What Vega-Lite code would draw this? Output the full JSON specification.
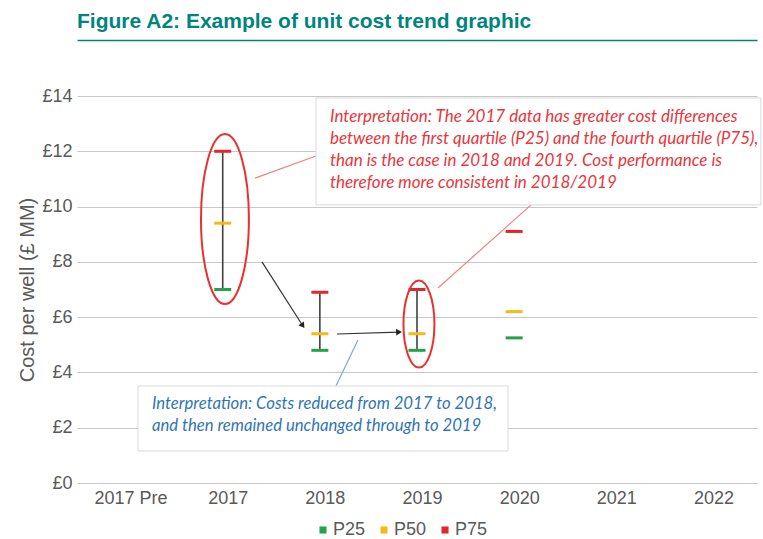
{
  "$schema": "https://vega.github.io/schema/vega-lite/v6.json",
  "width": 680,
  "height": 387,
  "autosize": {"type": "none"},
  "padding": {"left": 77, "top": 96, "right": 6, "bottom": 56},
  "background": "white",
  "title": {
    "text": "Figure A2: Example of unit cost trend graphic",
    "anchor": "start",
    "frame": "group",
    "font": "Liberation Sans",
    "fontSize": 21,
    "fontWeight": "bold",
    "color": "#00857e",
    "offset": 8,
    "dx": 0
  },
  "config": {
    "view": {"stroke": null},
    "axis": {"labelFont": "Liberation Sans", "titleFont": "Liberation Sans"}
  },
  "datasets": {
    "costs": [
      {"pos": 1, "year": "2017", "P25": 7.0, "P50": 9.4, "P75": 12.0},
      {"pos": 2, "year": "2018", "P25": 4.8, "P50": 5.4, "P75": 6.9},
      {"pos": 3, "year": "2019", "P25": 4.8, "P50": 5.4, "P75": 7.0},
      {"pos": 4, "year": "2020", "P25": 5.25, "P50": 6.2, "P75": 9.1}
    ],
    "boxes": [
      {"name": "red", "x": 1.96, "x2": 6.54, "y": 13.93, "y2": 10.06},
      {"name": "blue", "x": 0.128, "x2": 3.937, "y": 3.51, "y2": 1.158}
    ],
    "notes": [
      {"group": "red", "x": 2.104, "y": 13.24, "text": "Interpretation: The 2017 data has greater cost differences"},
      {"group": "red", "x": 2.104, "y": 12.45, "text": "between the first quartile (P25) and the fourth quartile (P75),"},
      {"group": "red", "x": 2.104, "y": 11.65, "text": "than is the case in 2018 and 2019. Cost performance is"},
      {"group": "red", "x": 2.104, "y": 10.85, "text": "therefore more consistent in 2018/2019"},
      {"group": "blue", "x": 0.272, "y": 2.86, "text": "Interpretation: Costs reduced from 2017 to 2018,"},
      {"group": "blue", "x": 0.272, "y": 2.06, "text": "and then remained unchanged through to 2019"}
    ],
    "leaders": [
      {"kind": "red", "x": 1.333, "y": 11.03, "x2": 1.96, "y2": 11.83},
      {"kind": "red", "x": 3.216, "y": 7.055, "x2": 4.174, "y2": 10.06},
      {"kind": "blue", "x": 2.392, "y": 5.17, "x2": 2.166, "y2": 3.51},
      {"kind": "arrow", "x": 1.404, "y": 8.0, "x2": 1.824, "y2": 5.69},
      {"kind": "arrow", "x": 2.176, "y": 5.39, "x2": 2.815, "y2": 5.46}
    ],
    "heads": [
      {"n": 1, "x": 1.824, "y": 5.69},
      {"n": 2, "x": 2.815, "y": 5.46}
    ],
    "rings": [
      {"n": 1, "x": 1.023, "y": 9.55},
      {"n": 2, "x": 3.02, "y": 5.75}
    ]
  },
  "resolve": {"axis": {"x": "independent"}},
  "layer": [
    {
      "data": {"name": "leaders"},
      "transform": [{"filter": "datum.kind == 'red'"}],
      "mark": {"type": "rule", "color": "#ef8080", "strokeWidth": 1.2},
      "encoding": {
        "x": {"field": "x", "type": "quantitative", "scale": {"domain": [-0.5, 6.5], "nice": false, "zero": false}, "axis": null},
        "y": {"field": "y", "type": "quantitative", "scale": {"domain": [0, 14], "nice": false},
          "axis": {
            "values": [0, 2, 4, 6, 8, 10, 12, 14],
            "labelExpr": "'£' + datum.value",
            "grid": true, "gridColor": "#c8c8c8", "gridWidth": 1.2,
            "ticks": false, "domain": false,
            "labelFontSize": 18, "labelColor": "#595959", "labelPadding": 5,
            "title": "Cost per well (£ MM)", "titleFontSize": 20, "titleFontWeight": "normal",
            "titleColor": "#595959", "titlePadding": 4
          }},
        "x2": {"field": "x2"},
        "y2": {"field": "y2"}
      }
    },
    {
      "data": {"name": "leaders"},
      "transform": [{"filter": "datum.kind == 'blue'"}],
      "mark": {"type": "rule", "color": "#7aa9d8", "strokeWidth": 1.2},
      "encoding": {
        "x": {"field": "x", "type": "quantitative", "axis": null},
        "y": {"field": "y", "type": "quantitative"},
        "x2": {"field": "x2"},
        "y2": {"field": "y2"}
      }
    },
    {
      "data": {"name": "boxes"},
      "mark": {"type": "rect", "fill": "white", "stroke": "#d9d9d9", "strokeWidth": 1},
      "encoding": {
        "x": {"field": "x", "type": "quantitative",
          "axis": {"orient": "top", "offset": 56, "domainColor": "#00857e", "domainWidth": 1.5,
            "labels": false, "ticks": false, "grid": false, "title": null}},
        "x2": {"field": "x2"},
        "y": {"field": "y", "type": "quantitative"},
        "y2": {"field": "y2"}
      }
    },
    {
      "data": {"name": "notes"},
      "transform": [{"filter": "datum.group == 'red'"}],
      "mark": {"type": "text", "align": "left", "baseline": "middle", "font": "Lato", "fontStyle": "italic", "fontSize": 17, "color": "#e8363c"},
      "encoding": {
        "x": {"field": "x", "type": "quantitative", "axis": null},
        "y": {"field": "y", "type": "quantitative"},
        "text": {"field": "text"}
      }
    },
    {
      "data": {"name": "notes"},
      "transform": [{"filter": "datum.group == 'blue'"}],
      "mark": {"type": "text", "align": "left", "baseline": "middle", "font": "Lato", "fontStyle": "italic", "fontSize": 16.7, "color": "#2f75b5"},
      "encoding": {
        "x": {"field": "x", "type": "quantitative", "axis": null},
        "y": {"field": "y", "type": "quantitative"},
        "text": {"field": "text"}
      }
    },
    {
      "data": {"name": "leaders"},
      "transform": [{"filter": "datum.kind == 'arrow'"}],
      "mark": {"type": "rule", "color": "#333333", "strokeWidth": 1.2},
      "encoding": {
        "x": {"field": "x", "type": "quantitative", "axis": null},
        "y": {"field": "y", "type": "quantitative"},
        "x2": {"field": "x2"},
        "y2": {"field": "y2"}
      }
    },
    {
      "data": {"name": "heads"},
      "transform": [{"filter": "datum.n == 1"}],
      "mark": {"type": "point", "shape": "triangle-up", "filled": true, "color": "#222222", "size": 45, "angle": 146, "opacity": 1},
      "encoding": {
        "x": {"field": "x", "type": "quantitative", "axis": null},
        "y": {"field": "y", "type": "quantitative"}
      }
    },
    {
      "data": {"name": "heads"},
      "transform": [{"filter": "datum.n == 2"}],
      "mark": {"type": "point", "shape": "triangle-up", "filled": true, "color": "#222222", "size": 45, "angle": 88, "opacity": 1},
      "encoding": {
        "x": {"field": "x", "type": "quantitative", "axis": null},
        "y": {"field": "y", "type": "quantitative"}
      }
    },
    {
      "data": {"name": "costs"},
      "transform": [{"filter": "datum.pos <= 3"}],
      "mark": {"type": "rule", "color": "#404040", "strokeWidth": 1.6},
      "encoding": {
        "x": {"field": "pos", "type": "quantitative", "axis": null},
        "y": {"field": "P25", "type": "quantitative"},
        "y2": {"field": "P75"}
      }
    },
    {
      "data": {"name": "costs"},
      "transform": [{"fold": ["P25", "P50", "P75"], "as": ["pct", "value"]}],
      "mark": {"type": "tick", "orient": "horizontal", "size": 17, "thickness": 3, "opacity": 1},
      "encoding": {
        "x": {"field": "pos", "type": "quantitative",
          "axis": {
            "values": [0, 1, 2, 3, 4, 5, 6],
            "labelExpr": "['2017 Pre','2017','2018','2019','2020','2021','2022'][datum.value]",
            "grid": false, "ticks": false, "domain": false,
            "labelFontSize": 18, "labelColor": "#595959", "labelPadding": 6, "labelOffset": 5,
            "title": null
          }},
        "y": {"field": "value", "type": "quantitative"},
        "color": {
          "field": "pct", "type": "nominal",
          "scale": {"domain": ["P25", "P50", "P75"], "range": ["#22a249", "#f7b915", "#e3262b"]},
          "legend": {
            "orient": "none", "legendX": 237, "legendY": 425, "direction": "horizontal",
            "title": null, "symbolType": "square", "symbolSize": 50, "symbolStrokeWidth": 0, "symbolOpacity": 1,
            "labelFont": "Liberation Sans", "labelFontSize": 18, "labelColor": "#595959",
            "labelOffset": 1, "columnPadding": 9
          }
        }
      }
    },
    {
      "data": {"name": "rings"},
      "transform": [{"filter": "datum.n == 1"}],
      "mark": {"type": "point", "shape": "M0,-1A0.282,1,0,1,1,0,1A0.282,1,0,1,1,0,-1Z", "filled": false, "color": "#e8322f", "strokeWidth": 2, "size": 28900, "opacity": 1},
      "encoding": {
        "x": {"field": "x", "type": "quantitative", "axis": null},
        "y": {"field": "y", "type": "quantitative"}
      }
    },
    {
      "data": {"name": "rings"},
      "transform": [{"filter": "datum.n == 2"}],
      "mark": {"type": "point", "shape": "M0,-1A0.356,1,0,1,1,0,1A0.356,1,0,1,1,0,-1Z", "filled": false, "color": "#e8322f", "strokeWidth": 2, "size": 7570, "opacity": 1},
      "encoding": {
        "x": {"field": "x", "type": "quantitative", "axis": null},
        "y": {"field": "y", "type": "quantitative"}
      }
    }
  ]
}
